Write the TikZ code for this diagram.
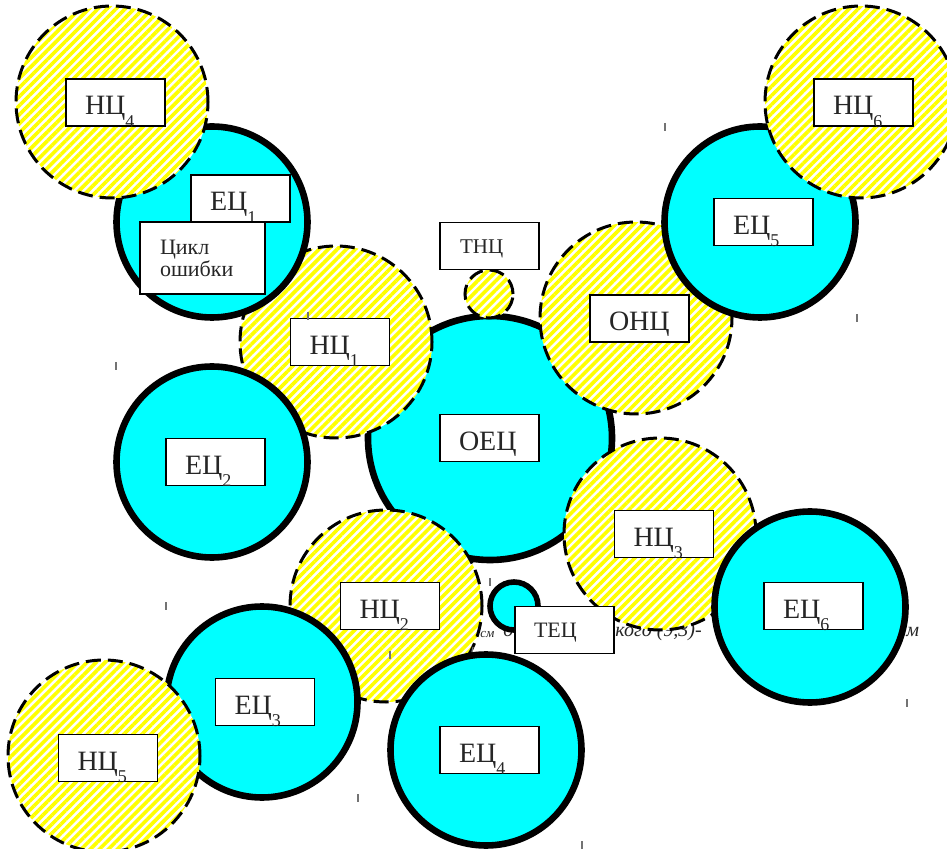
\documentclass[tikz,border=0pt]{standalone}
\usepackage{fontspec}
\setmainfont{Liberation Serif}
\usetikzlibrary{patterns.meta}
\definecolor{aqua}{RGB}{0,255,255}
\definecolor{lemon}{RGB}{255,255,0}
% lowered index digit after a cycle name
\newcommand\lsub[1]{\raisebox{-0.45em}{\fontsize{9}{9}\selectfont #1}}

\begin{document}
\begin{tikzpicture}[x=0.5pt,y=-0.5pt,
  ecirc/.style={circle, inner sep=0pt, outer sep=0pt, draw=black, line width=3.3pt,
    fill=aqua, minimum size=95.5pt},
  ncirc/.style={circle, inner sep=0pt, outer sep=0pt, draw=black, line width=1.5pt,
    dash pattern=on 7.5pt off 3.5pt, preaction={fill=white},
    pattern={Lines[angle=45,distance=3.2pt,line width=1.8pt]},
    pattern color=lemon, minimum size=96pt},
  lbl/.style={draw=black, line width=0.8pt, fill=white, text=black!85,
    font=\fontsize{14}{16}\selectfont, inner xsep=9.5pt, inner ysep=0pt,
    text width=30.5pt, minimum height=23.5pt, align=left,
    text height=12.3pt, text depth=0.1pt},
  slbl/.style={lbl, font=\fontsize{10.5}{12}\selectfont,
    inner xsep=10pt, text width=29.5pt, text height=7.3pt, text depth=0.1pt},
  note/.style={anchor=base west, inner sep=0pt, text=black!85,
    font=\itshape\fontsize{10}{12}\selectfont},
  tick/.style={draw=black!55, line width=0.6pt}
]
\useasboundingbox (0,0) rectangle (947,849);
\clip (0,0) rectangle (947,849);

% caption line lying behind the cycles
\node[note, font=\itshape\fontsize{6.5}{8}\selectfont] (t1) at (480,637) {см};
\node[note] (t2) at (503,636) {о};
\node[note] (t3) at (615,636) {кого (9,3)-};
\node[note] (t4) at (906,636) {м};

% main error cycle
\node[ecirc, minimum size=122pt] (oec) at (490,438) {};

% neighbour cycles around it
\node[ncirc] (nc1) at (336,342) {};
\node[ncirc] (onc) at (636,318) {};
\node[ncirc] (nc3) at (660,534) {};
\node[ncirc] (nc2) at (386,606) {};
\node[ncirc, minimum size=24pt] (tnc) at (489,294) {};

% error cycles
\node[ecirc] (ec1) at (212,222) {};
\node[ecirc] (ec2) at (212,462) {};
\node[ecirc] (ec5) at (760,222) {};
\node[ecirc] (ec6) at (810,607) {};
\node[ecirc] (ec3) at (262,702) {};
\node[ecirc] (ec4) at (486,750) {};
\node[ecirc, minimum size=24pt, line width=2.8pt] (tec) at (514,606) {};

% outer neighbour cycles
\node[ncirc] (nc4) at (112,102) {};
\node[ncirc] (nc6) at (861,102) {};
\node[ncirc] (nc5) at (104,756) {};

% labels
\node[lbl] (lnc4) at (115.5,102.5) {НЦ\lsub{4}};
\node[lbl] (lec1) at (240.5,198.5) {ЕЦ\lsub{1}};
\node[lbl, font=\fontsize{11}{11}\selectfont, inner xsep=10pt,
  text width=42.5pt, minimum height=36pt, text height=8.5pt, text depth=11.5pt]
  (lcyc) at (202.5,258) {Цикл\\ошибки};
\node[slbl] (ltnc) at (489.5,246) {ТНЦ};
\node[lbl] (lnc1) at (340,342) {НЦ\lsub{1}};
\node[lbl] (lonc) at (639.5,318.5) {ОНЦ};
\node[lbl] (lnc6) at (863.5,102.5) {НЦ\lsub{6}};
\node[lbl] (lec5) at (763.5,222) {ЕЦ\lsub{5}};
\node[lbl] (lec2) at (215.5,462) {ЕЦ\lsub{2}};
\node[lbl] (loec) at (489.5,438) {ОЕЦ};
\node[lbl] (lnc3) at (664,534) {НЦ\lsub{3}};
\node[lbl] (lec6) at (813.5,606) {ЕЦ\lsub{6}};
\node[lbl] (lnc2) at (390,606) {НЦ\lsub{2}};
\node[slbl, font=\fontsize{11}{12}\selectfont, inner xsep=9.5pt, text width=30.5pt]
  (ltec) at (564.5,630) {ТЕЦ};
\node[lbl] (lec3) at (265,702) {ЕЦ\lsub{3}};
\node[lbl] (lnc5) at (108,758) {НЦ\lsub{5}};
\node[lbl] (lec4) at (489.5,750) {ЕЦ\lsub{4}};

% small stray marks
\foreach \x/\y in {116/366, 665/127, 857/318, 166/606, 358/798, 582/845,
                   907/703, 490/582, 390/655, 308/316}
  \draw[tick] (\x,\y-4) -- (\x,\y+4);
\draw[tick] (473,647) -- (472,652);
\end{tikzpicture}
\end{document}
